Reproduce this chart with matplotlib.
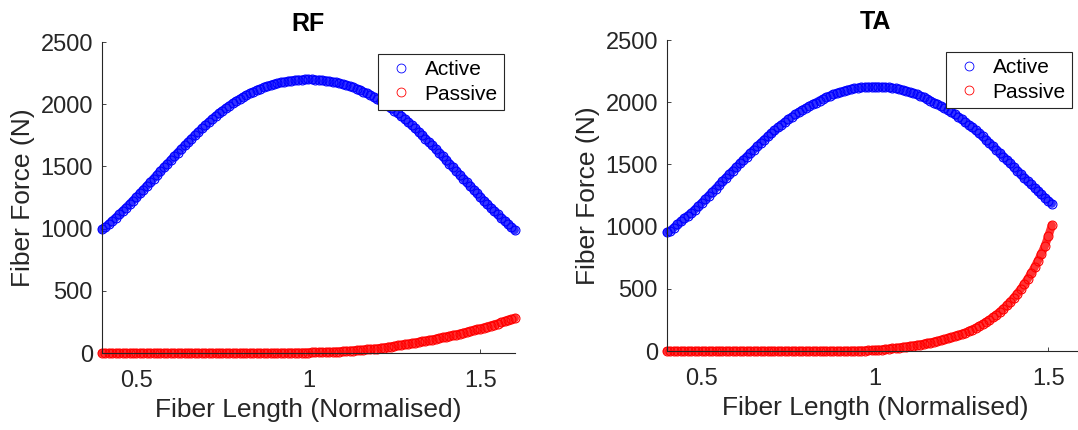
import numpy as np
import matplotlib
matplotlib.use('Agg')
import matplotlib.pyplot as plt

# -------------------------
# DATA (read off the reference, sampled every 0.01 of normalised fiber length)
# -------------------------
rf_length = np.round(np.arange(0.40, 1.6001, 0.01), 2)
ta_length = np.round(np.arange(0.40, 1.5101, 0.01), 2)

rf_active = [995, 1013, 1038, 1064, 1089, 1115, 1143, 1170, 1198, 1226,
             1254, 1284, 1314, 1344, 1373, 1403, 1433, 1464, 1494, 1523,
             1552, 1582, 1612, 1640, 1669, 1696, 1725, 1753, 1780, 1806,
             1832, 1857, 1882, 1906, 1928, 1950, 1970, 1990, 2009, 2027,
             2043, 2060, 2075, 2089, 2102, 2115, 2126, 2136, 2146, 2154,
             2162, 2169, 2176, 2181, 2186, 2191, 2194, 2197, 2198, 2200,
             2200,
             2200, 2198, 2197, 2194, 2191, 2186, 2181, 2176, 2169, 2162,
             2154, 2146, 2136, 2126, 2115, 2102, 2089, 2075, 2060, 2043,
             2027, 2009, 1990, 1970, 1950, 1928, 1906, 1882, 1857, 1832,
             1806, 1780, 1753, 1725, 1696, 1669, 1640, 1612, 1582, 1552,
             1523, 1494, 1464, 1433, 1403, 1373, 1344, 1314, 1284, 1254,
             1226, 1198, 1170, 1143, 1115, 1089, 1064, 1038, 1013, 988]

rf_passive = [0] * 51 + [
    0.5, 1, 1, 1.5, 2, 2, 2.5, 3, 3, 4,
    4.5, 5, 6, 6.5, 7.5, 8.5, 9.5, 11, 12, 14,
    16, 18, 20, 22, 24, 26, 29, 31, 34, 36,
    40, 44, 48, 52, 56, 61, 65, 69, 74, 78,
    83, 88, 93, 98, 103, 108, 114, 119, 125, 131,
    137, 143, 149, 156, 162, 169, 176, 183, 190, 197,
    205, 213, 221, 229, 237, 246, 254, 263, 271, 280]

ta_active = [954, 969, 993, 1018, 1042, 1067, 1089, 1110, 1137, 1164,
             1191, 1220, 1249, 1278, 1306, 1335, 1364, 1394, 1423, 1451,
             1479, 1508, 1537, 1564, 1592, 1618, 1646, 1673, 1699, 1725,
             1750, 1774, 1798, 1821, 1842, 1864, 1883, 1902, 1921, 1938,
             1954, 1970, 1984, 1998, 2014, 2028, 2042, 2053, 2064, 2073,
             2081, 2090, 2099, 2105, 2111, 2116, 2119, 2122, 2123, 2125,
             2125,
             2125, 2123, 2122, 2119, 2116, 2111, 2105, 2099, 2090, 2081,
             2073, 2064, 2053, 2042, 2028, 2014, 1998, 1984, 1970, 1954,
             1938, 1921, 1902, 1883, 1864, 1842, 1821, 1798, 1774, 1750,
             1725, 1699, 1673, 1646, 1618, 1592, 1564, 1537, 1508, 1479,
             1451, 1423, 1394, 1366, 1340, 1313, 1287, 1260, 1234, 1208,
             1184]

ta_passive = [0] * 51 + [
    0, 0.5, 1, 1.5, 2, 3, 4, 5, 6, 8,
    10, 12, 15, 18, 21, 24, 27, 31, 35, 39,
    43, 47, 52, 57, 63, 68, 74, 80, 86, 93,
    101, 109, 117, 127, 137, 147, 159, 172, 185, 200,
    216, 233, 251, 271, 292, 315, 340, 367, 396, 427,
    461, 497, 536, 579, 624, 674, 727, 784, 846, 925,
    1010]

muscles = ['RF', 'TA']
lengths = [rf_length, ta_length]
active = [rf_active, ta_active]
passive = [rf_passive, ta_passive]

# -------------------------
# PLOT
# -------------------------
plt.rcParams['font.family'] = ['Liberation Sans', 'DejaVu Sans']
axcol = '#262626'

fig = plt.figure(figsize=(10.78, 4.30), dpi=100, facecolor='w')
positions = [[0.0946, 0.179, 0.383, 0.723], [0.6187, 0.1837, 0.386, 0.723]]

for pos, name, x, act, pas in zip(positions, muscles, lengths, active, passive):
    ax = fig.add_axes(pos)
    # band under the markers, gives the dense overlap look of the original
    ax.plot(x, act, '-', color='b', lw=6, alpha=0.8, solid_capstyle='round', clip_on=False)
    ax.plot(x, pas, '-', color='r', lw=6, alpha=0.8, solid_capstyle='round', clip_on=False)
    ax.plot(x, act, 'o', color='b', mfc='none', ms=6.4, mew=0.8, label='Active', clip_on=False)
    ax.plot(x, pas, 'o', color='r', mfc='none', ms=6.4, mew=0.8, label='Passive', clip_on=False)
    ax.set_xlim(0.4, 1.6)
    ax.set_ylim(0, 2500)
    ax.set_xticks([0.5, 1, 1.5])
    ax.set_xticklabels(['0.5', '1', '1.5'])
    ax.set_yticks([0, 500, 1000, 1500, 2000, 2500])
    for s in ['top', 'right']:
        ax.spines[s].set_visible(False)
    for s in ['left', 'bottom']:
        ax.spines[s].set_color(axcol)
        ax.spines[s].set_linewidth(0.8)
    ax.tick_params(axis='both', direction='in', length=3, width=0.6,
                   colors=axcol, labelsize=17)
    ax.tick_params(axis='x', pad=12.5)
    ax.tick_params(axis='y', pad=6.5)
    ax.set_xlabel('Fiber Length (Normalised)', fontsize=19, color=axcol, labelpad=4)
    ax.set_ylabel('Fiber Force (N)', fontsize=19, color=axcol, labelpad=4)
    ax.set_title(name, fontsize=18, fontweight='bold', pad=8)
    leg = ax.legend(loc='upper right', bbox_to_anchor=(1 - 11 / 413, 1 - 12 / 311),
                    borderaxespad=0, fontsize=15, fancybox=False, framealpha=1,
                    edgecolor=axcol, handlelength=1.6, handletextpad=0.35,
                    borderpad=0.3, labelspacing=0.25)
    leg.get_frame().set_linewidth(0.8)
    for h in leg.get_lines():
        h.set_markeredgewidth(0.6)

fig.savefig('out.png', dpi=100)
